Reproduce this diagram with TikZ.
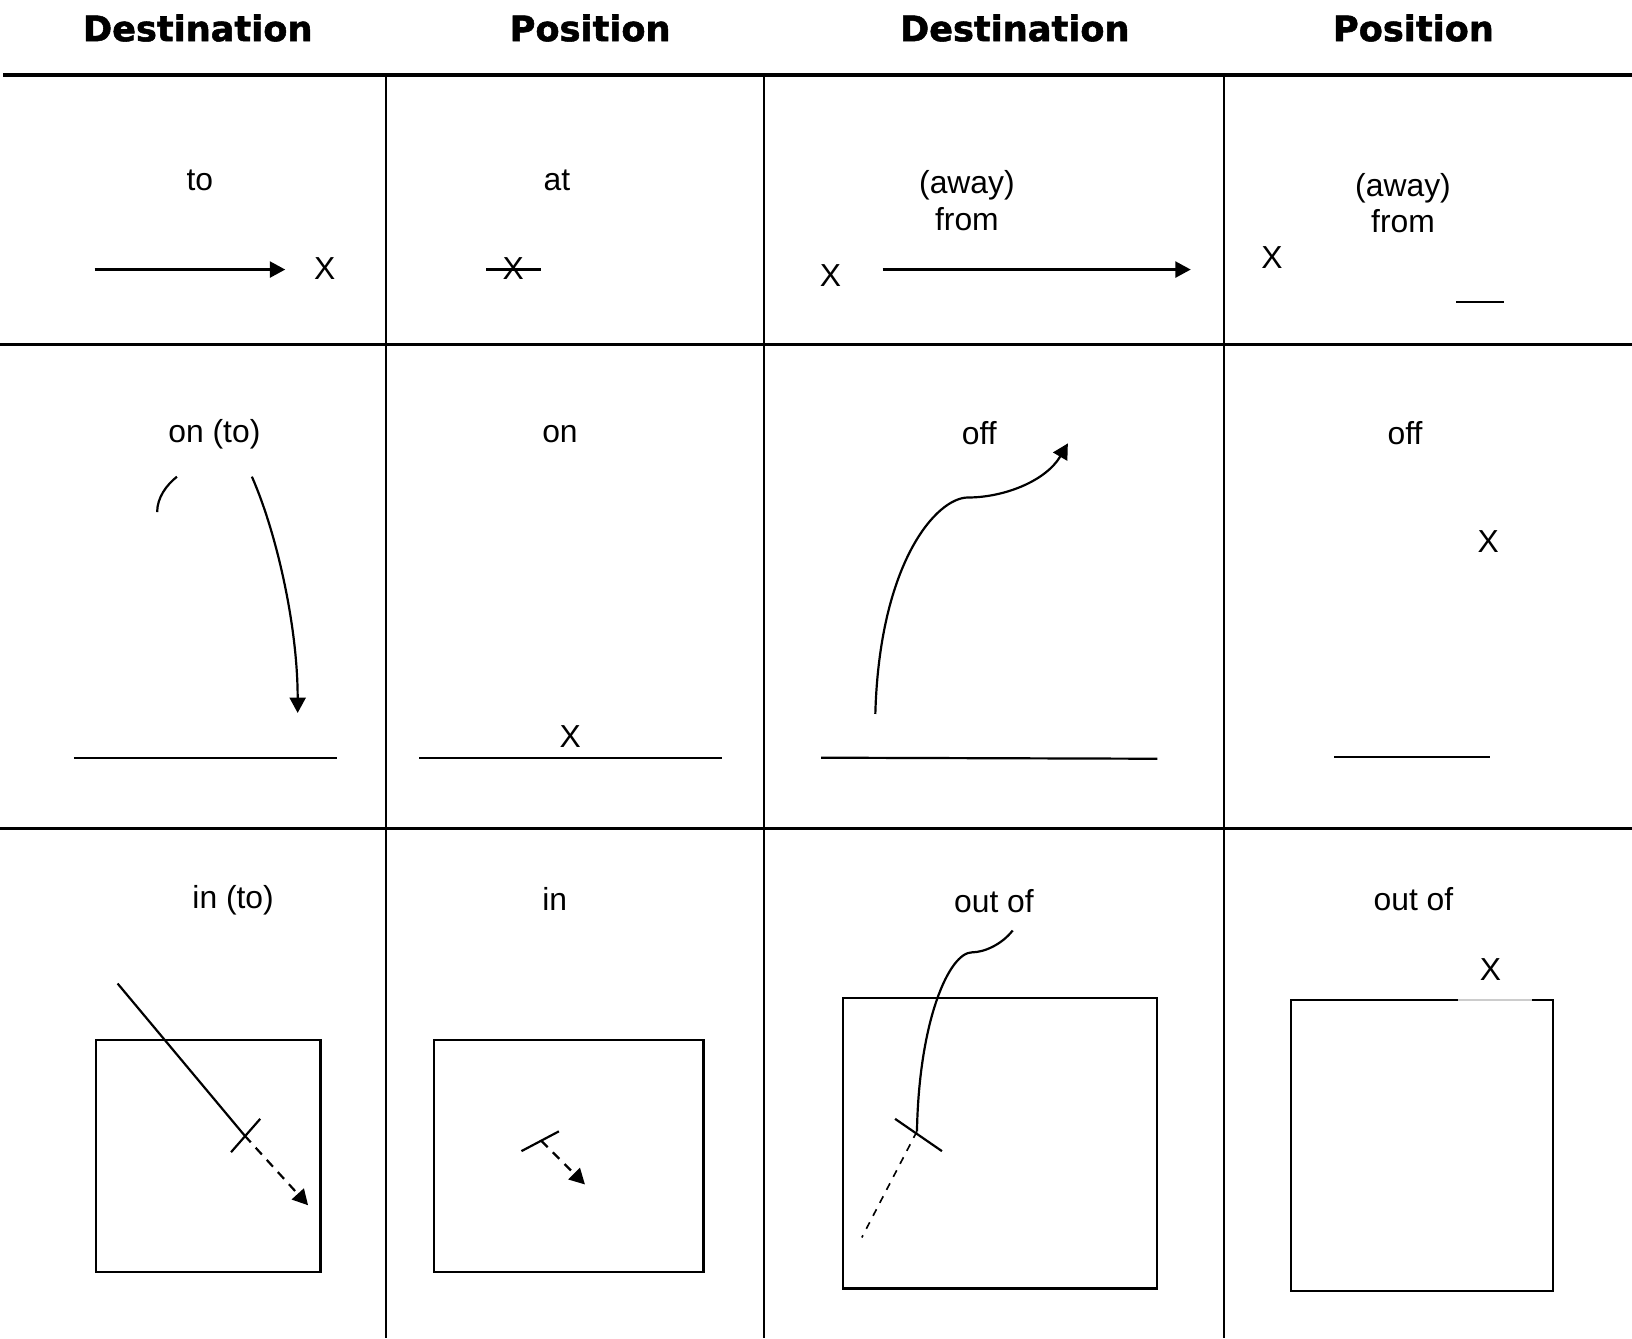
\documentclass[tikz,border=0pt]{standalone}
\usepackage{fontspec}
\setmainfont{Liberation Sans}
\newfontfamily\headfont{DejaVu Sans}[BoldFeatures={FakeBold=1.5}]
\usetikzlibrary{arrows.meta}

\begin{document}
\begin{tikzpicture}[x=0.01cm,y=-0.01cm,line width=0.6pt,
    head/.style={font=\headfont\bfseries\fontsize{9.6}{11}\selectfont,inner sep=0pt},
    word/.style={font=\fontsize{8.7}{10}\selectfont,inner sep=0pt,align=center},
    arr/.style={-{Triangle[length=4.2pt,width=4.4pt]}},
    dashline/.style={dash pattern=on 2.5pt off 2pt},
    thindash/.style={line width=0.45pt,dash pattern=on 2pt off 2pt}]
  \useasboundingbox (0,0) rectangle (1568,1286);

  \node[head] (h1) at (190,27) {Destination};
  \node[head] (h2) at (567,27) {Position};
  \node[head] (h3) at (975,27) {Destination};
  \node[head] (h4) at (1358,27) {Position};

  \draw[line width=0.9pt] (3,72) -- (1568,72);
  \draw (0,331) -- (1568,331);
  \draw (0,796) -- (1568,796);
  \foreach \colx in {371,734,1176}
    \draw (\colx,72) -- (\colx,1286);

  % first row
  \node[word] (to) at (192,173) {to};
  \node[word] (x-to) at (312,258) {X};
  \coordinate (to-s) at (91,259);
  \coordinate (to-e) at (274,259);
  \draw[arr] (to-s) -- (to-e);

  \node[word] (at) at (535,173) {at};
  \node[word] (x-at) at (493,258) {X};
  \coordinate (at-s) at (467,259);
  \coordinate (at-e) at (520,259);
  \draw (at-s) -- (at-e);

  \node[word] (from1) at (929,193) {(away)\\from};
  \node[word] (x-from1) at (798,265) {X};
  \coordinate (from1-s) at (848,259);
  \coordinate (from1-e) at (1144,259);
  \draw[arr] (from1-s) -- (from1-e);

  \node[word] (from2) at (1348,195) {(away)\\from};
  \node[word] (x-from2) at (1222,247) {X};
  \coordinate (from2-s) at (1399,290);
  \coordinate (from2-e) at (1445,290);
  \draw (from2-s) -- (from2-e);

  % second row
  \node[word] (onto) at (206,417) {on (to)};
  \coordinate (onto-a) at (151,492);
  \coordinate (onto-b) at (170,458);
  \coordinate (onto-s) at (242,458);
  \coordinate (onto-e) at (286,685);
  \draw (onto-a) .. controls (151,478) and (160,466) .. (onto-b);
  \draw[arr] (onto-s) .. controls (265,510) and (286,600) .. (onto-e);
  \draw (71,728) -- (324,728);

  \node[word] (on) at (538,417) {on};
  \node[word] (x-on) at (548,708) {X};
  \draw (403,728) -- (694,728);

  \node[word] (off1) at (941,416) {off};
  \coordinate (off1-s) at (841,686);
  \coordinate (off1-m) at (930,478);
  \coordinate (off1-e) at (1026,426);
  \draw[arr] (off1-s) .. controls (845,540) and (900,478) .. (off1-m)
    .. controls (965,478) and (1005,462) .. (off1-e);
  \draw (789,728) -- (1112,729);

  \node[word] (off2) at (1350,416) {off};
  \node[word] (x-off2) at (1430,520) {X};
  \draw (1282,727) -- (1432,727);

  % third row
  \node[word] (into) at (224,865) {in (to)};
  \draw (92,999) rectangle (308,1222);
  \coordinate (into-s) at (113,945);
  \coordinate (into-m) at (235,1091);
  \coordinate (into-e) at (296,1158);
  \coordinate (into-t1) at (222,1107);
  \coordinate (into-t2) at (250,1075);
  \draw (into-s) -- (into-m);
  \draw (into-t1) -- (into-t2);
  \draw[arr,dashline] (into-m) -- (into-e);

  \node[word] (in) at (533,864) {in};
  \draw (417,999) rectangle (676,1222);
  \coordinate (in-t1) at (501,1106);
  \coordinate (in-t2) at (537,1087);
  \coordinate (in-m) at (520,1096);
  \coordinate (in-e) at (562,1138);
  \draw (in-t1) -- (in-t2);
  \draw[arr,dashline] (in-m) -- (in-e);

  \node[word] (outof1) at (955,866) {out of};
  \draw (810,959) rectangle (1112,1238);
  \coordinate (outof1-s) at (973,894);
  \coordinate (outof1-w) at (934,915);
  \coordinate (outof1-m) at (881,1087);
  \coordinate (outof1-e) at (828,1189);
  \coordinate (outof1-t1) at (860,1075);
  \coordinate (outof1-t2) at (905,1106);
  \draw (outof1-s) .. controls (962,908) and (945,915) .. (outof1-w)
    .. controls (912,915) and (883,980) .. (outof1-m);
  \draw (outof1-t1) -- (outof1-t2);
  \draw[thindash] (outof1-m) -- (outof1-e);

  \node[word] (outof2) at (1358,864) {out of};
  \node[word] (x-outof2) at (1432,932) {X};
  \draw (1401,961) -- (1240,961) -- (1240,1240) -- (1492,1240) -- (1492,961) -- (1472,961);
  \draw[gray!40] (1401,961) -- (1472,961);
\end{tikzpicture}
\end{document}
